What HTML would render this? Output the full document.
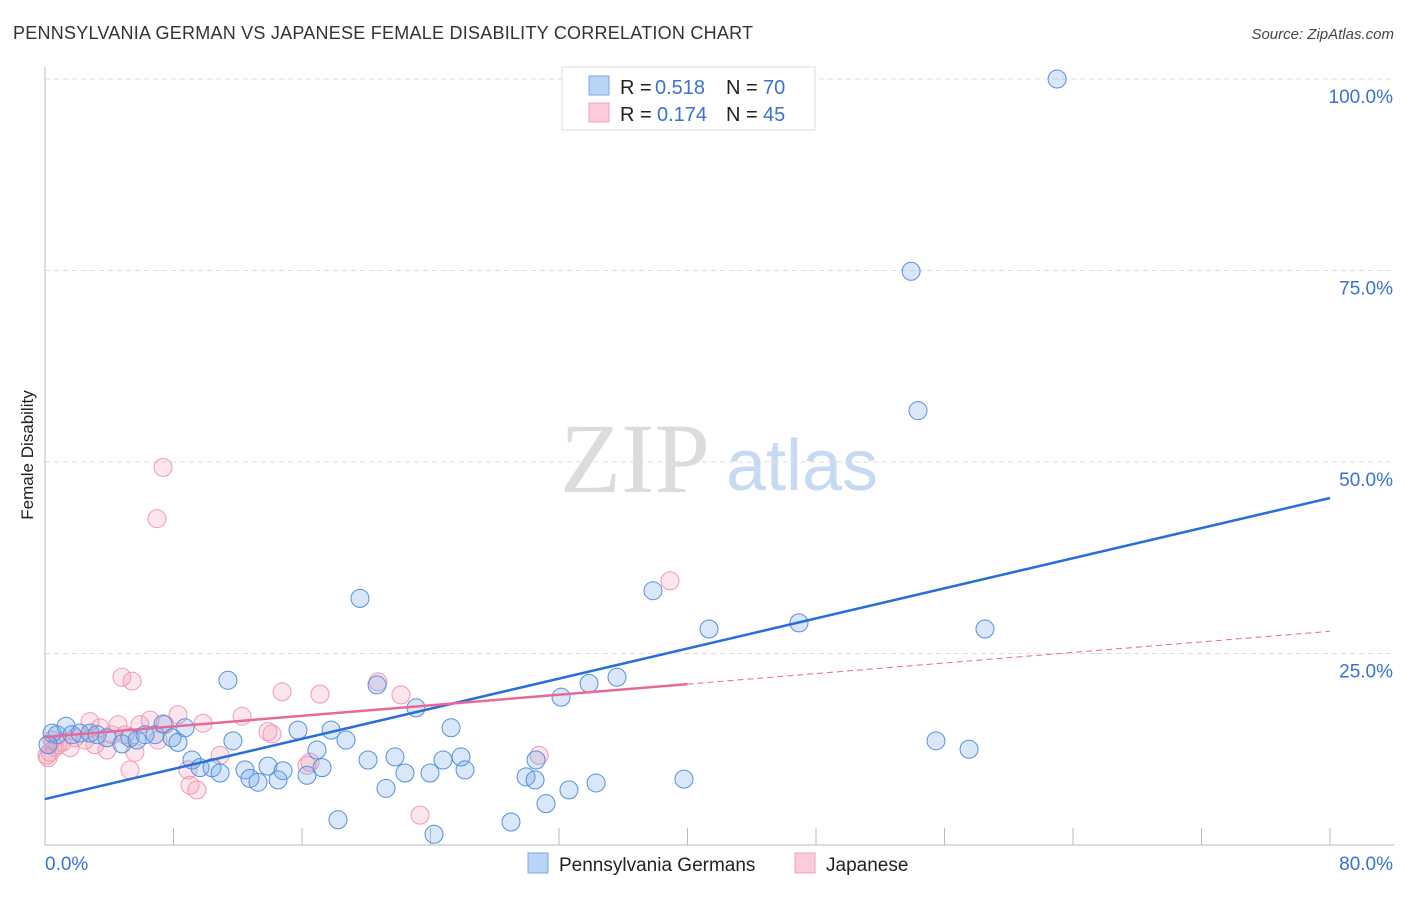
<!DOCTYPE html>
<html><head><meta charset="utf-8"><style>
body{margin:0;background:#fff;font-family:"Liberation Sans",sans-serif}
svg text{font-family:"Liberation Sans",sans-serif}
</style></head><body>
<svg id="chart" width="1406" height="892" xmlns="http://www.w3.org/2000/svg">
<text x="13" y="39" font-size="18" fill="#333" textLength="740">PENNSYLVANIA GERMAN VS JAPANESE FEMALE DISABILITY CORRELATION CHART</text>
<text x="1394" y="39" font-size="15" fill="#444" text-anchor="end" font-style="italic">Source: ZipAtlas.com</text>
<text transform="translate(33,455) rotate(-90)" font-size="17" fill="#222" text-anchor="middle">Female Disability</text>
<g>
<text x="635" y="492" font-size="100" fill="#dcdcdc" text-anchor="middle" style="font-family:'Liberation Serif',serif">ZIP</text>
<text x="802" y="490" font-size="72" fill="#c8daf2" text-anchor="middle">atlas</text>
</g>
<g id="grid"></g><g id="axes"></g><g id="pts"></g><g id="lines"></g>
<g>
<rect x="562" y="67" width="253" height="63" fill="#fff" stroke="#ddd"/>
<rect x="589" y="76" width="20" height="19" fill="#b9d4f5" stroke="#7aa9e6"/>
<rect x="589" y="103" width="20" height="19" fill="#fccbd9" stroke="#f0a0ba"/>
<text x="620" y="94" font-size="20" fill="#222">R =</text><text x="655" y="94" font-size="20" fill="#3a72d0">0.518</text>
<text x="726" y="94" font-size="20" fill="#222">N =</text><text x="763" y="94" font-size="20" fill="#3a72d0">70</text>
<text x="620" y="121" font-size="20" fill="#222">R =</text><text x="657" y="121" font-size="20" fill="#3a72d0">0.174</text>
<text x="726" y="121" font-size="20" fill="#222">N =</text><text x="763" y="121" font-size="20" fill="#3a72d0">45</text>
</g>
<g>
<rect x="528" y="853" width="20" height="20" fill="#b9d4f5" stroke="#7aa9e6"/>
<text x="559" y="871" font-size="19" fill="#222">Pennsylvania Germans</text>
<rect x="795" y="853" width="20" height="20" fill="#fccbd9" stroke="#f0a0ba"/>
<text x="826" y="871" font-size="19" fill="#222">Japanese</text>
</g>
</svg>
<script>
const yTicks=[25,50,75,100];
const yTickLabels=["25.0%","50.0%","75.0%","100.0%"];
const xTicks=[0,8,16,24,32,40,48,56,64,72,80];
const blueX=[0.44,0.75,1.31,1.68,2.18,2.80,3.24,3.86,4.79,5.29,5.73,6.23,6.85,7.35,7.91,8.28,8.72,9.15,9.65,10.40,10.90,11.39,11.70,12.45,12.76,13.26,13.88,14.51,14.82,15.75,16.31,16.93,17.25,17.81,18.24,18.74,19.61,20.11,20.67,21.23,21.79,22.41,23.10,23.97,24.22,24.78,25.28,25.90,26.15,29.01,29.95,30.51,30.57,31.19,32.13,32.62,33.87,34.31,35.61,37.85,39.78,41.34,46.94,53.92,54.35,55.47,57.53,58.52,63.01,0.19];
const blueY=[14.6,14.4,15.5,14.4,14.6,14.6,14.4,14.0,13.2,14.0,13.7,14.4,14.4,15.8,14.0,13.4,15.3,11.1,10.1,10.1,9.4,21.5,13.6,9.8,8.7,8.2,10.3,8.5,9.7,15.0,9.1,12.4,10.1,15.0,3.3,13.7,32.2,11.1,20.9,7.4,11.5,9.4,17.9,9.4,1.4,11.1,15.3,11.5,9.8,3.0,8.9,8.5,11.1,5.4,19.3,7.2,21.1,8.1,21.9,33.2,8.6,28.2,29.0,74.9,56.7,13.6,12.5,28.2,100.0,13.1];
const pinkX=[0.12,0.31,0.62,0.81,1.06,1.56,1.87,2.49,2.80,3.11,3.42,3.86,4.17,4.55,4.98,5.29,5.60,5.91,6.54,6.97,7.04,7.35,7.47,8.28,8.90,9.03,9.46,9.84,10.90,12.27,13.88,14.13,14.76,16.31,16.50,17.12,20.73,22.16,23.35,30.76,38.91,4.79,5.42,0.44,0.19];
const pinkY=[11.7,12.1,12.7,13.1,13.4,12.7,14.0,13.7,16.1,13.1,15.3,12.4,14.4,15.7,14.4,9.8,12.1,15.7,16.3,42.6,13.7,49.3,15.7,17.0,9.8,7.8,7.2,15.9,11.7,16.8,14.8,14.5,20.0,10.4,10.8,19.7,21.3,19.6,3.9,11.7,34.5,21.9,21.4,13.7,11.4];
const blueTrend=[6.0,45.3];
const pinkTrend=[14.1,27.9];
const pinkSolidEnd=40;
const NS="http://www.w3.org/2000/svg";
const X0=45,X1=1330,Y0=845,Y1=79;
function sx(v){return X0+(v/80)*(X1-X0);}
function sy(v){return Y0-(v/100)*(Y0-Y1);}
function mk(t,a,p){const e=document.createElementNS(NS,t);for(const k in a)e.setAttribute(k,a[k]);p.appendChild(e);return e;}
const grid=document.getElementById('grid'),axes=document.getElementById('axes'),pts=document.getElementById('pts'),lines=document.getElementById('lines');
yTicks.forEach((t,i)=>{
 const l=mk('line',{x1:X0,x2:1394,y1:sy(t),y2:sy(t),stroke:'#ddd','stroke-dasharray':'5,4'},grid);
 
 
 const tx=mk('text',{x:1393,y:sy(t)+24,'font-size':19,fill:'#3a72d0','text-anchor':'end'},axes);
 tx.textContent=yTickLabels[i];
 
 
});
const ya=mk('line',{x1:X0,x2:X0,y1:67,y2:Y0,stroke:'#bbb'},axes);


const xa=mk('line',{x1:X0,x2:1394,y1:Y0,y2:Y0,stroke:'#bbb'},axes);


xTicks.forEach(t=>{
 const l=mk('line',{x1:sx(t),x2:sx(t),y1:828,y2:Y0,stroke:'#bbb'},axes);
 
 
});
const xl0=mk('text',{x:45,y:870,'font-size':19,fill:'#3a72d0'},axes);xl0.textContent='0.0%';


const xl1=mk('text',{x:1393,y:870,'font-size':19,fill:'#3a72d0','text-anchor':'end'},axes);xl1.textContent='80.0%';


function dots(xs,ys,fill,stroke,name){xs.forEach((v,i)=>{
 const c=mk('circle',{cx:sx(v),cy:sy(ys[i]),r:9,fill:fill,stroke:stroke,'stroke-width':1},pts);
 
 
});}
dots(pinkX,pinkY,'rgba(244,160,188,0.28)','#ee9ab6','point-japanese');
dots(blueX,blueY,'rgba(120,170,235,0.28)','#5590dc','point-pennsylvania-german');
const bl=mk('line',{x1:sx(0),y1:sy(blueTrend[0]),x2:sx(80),y2:sy(blueTrend[1]),stroke:'#2a6fd8','stroke-width':2.5},lines);


const pm=pinkTrend[0]+(pinkTrend[1]-pinkTrend[0])*pinkSolidEnd/80;
const pl=mk('line',{x1:sx(0),y1:sy(pinkTrend[0]),x2:sx(pinkSolidEnd),y2:sy(pm),stroke:'#e8689a','stroke-width':2.5},lines);


const pd=mk('line',{x1:sx(pinkSolidEnd),y1:sy(pm),x2:sx(80),y2:sy(pinkTrend[1]),stroke:'#e8689a','stroke-width':1,'stroke-dasharray':'6,4'},lines);


</script>
</body></html>
